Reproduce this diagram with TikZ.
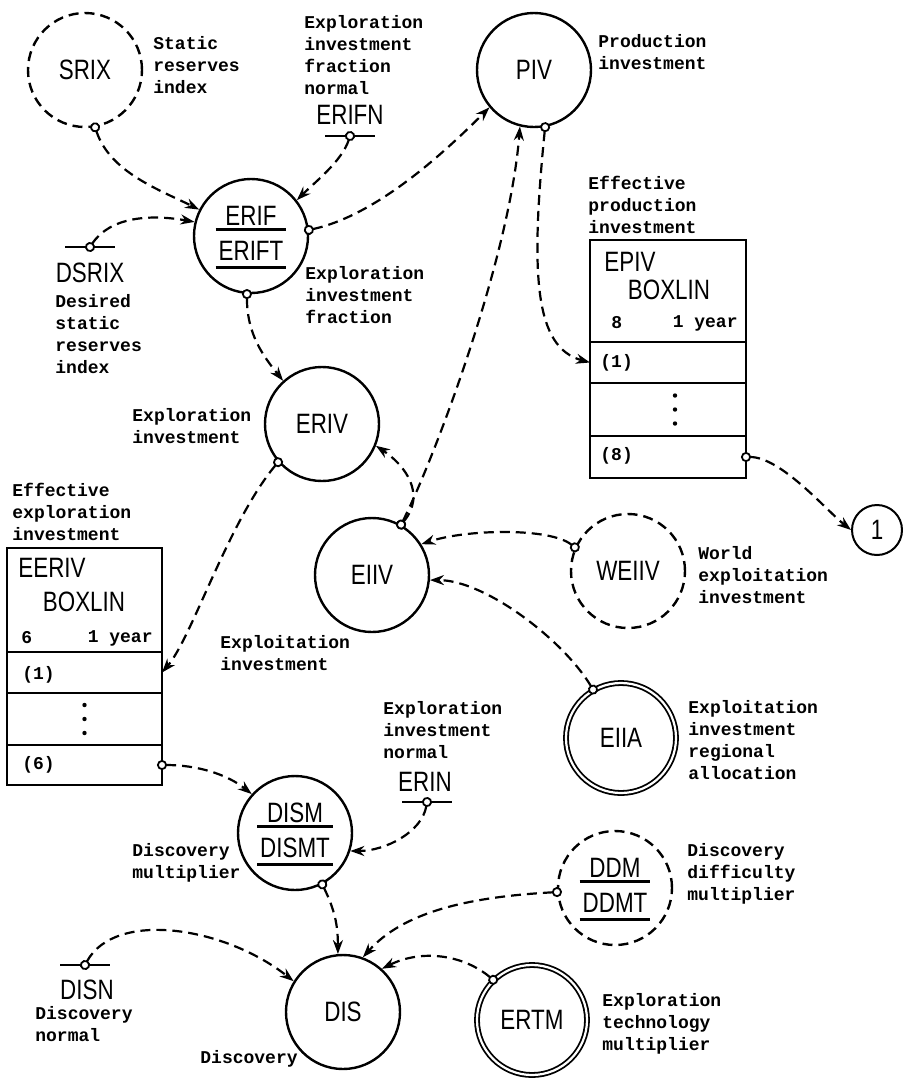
\documentclass[tikz,border=0pt]{standalone}
\usepackage{fontspec}
\setmonofont{Liberation Mono}
\newfontfamily\namefont[FakeStretch=0.8]{Liberation Sans}
\usetikzlibrary{arrows.meta}
\newcommand\ratio[2]{{\renewcommand\arraystretch{0}\setlength\arrayrulewidth{1.4pt}%
  \begin{tabular}{@{\hspace{1.5pt}}c@{\hspace{1.5pt}}}
  \rule{0pt}{11pt}#1\rule[-1.5pt]{0pt}{1.5pt}\\\hline
  \rule{0pt}{14.5pt}#2\rule[-3pt]{0pt}{3pt}\\\hline
  \end{tabular}}}

\begin{document}
\begin{tikzpicture}[x=0.5pt, y=-0.5pt,
  every node/.style={inner sep=0pt},
  mnem/.style={font=\namefont\fontsize{14}{15}\selectfont},
  var/.style={mnem, circle, draw, line width=1.2pt, minimum size=57pt},
  aux/.style={var, dash pattern=on 5pt off 3pt},
  given/.style={var, double, line width=0.9pt, double distance=1.1pt, minimum size=55pt},
  note/.style={align=left, anchor=north west, font=\ttfamily\bfseries\fontsize{9}{11}\selectfont},
  cell/.style={draw, line width=1pt, rectangle, anchor=north west, outer sep=0pt},
  link/.style={line width=1.1pt, dash pattern=on 5pt off 3pt,
    {Circle[length=5pt,fill=white,line width=0.9pt]}-{Stealth[length=7pt,width=5pt]},
    shorten <=-2.5pt},
  bar/.style={line width=1.2pt}]
  \useasboundingbox (0,0) rectangle (903,1078);

  \node[aux] (srix) at (85,70) {SRIX};
  \node[var] (erif) at (251,236) {\ratio{ERIF}{ERIFT}};
  \node[var] (piv) at (534,70) {PIV};
  \node[var] (eriv) at (322,424) {ERIV};
  \node[var] (eiiv) at (372,575) {EIIV};
  \node[aux] (weiiv) at (628,571) {WEIIV};
  \node[given] (eiia) at (621,738) {EIIA};
  \node[var] (dism) at (295,833) {\ratio{DISM}{DISMT}};
  \node[aux] (ddm) at (615,888) {\ratio{DDM}{DDMT}};
  \node[var] (dis) at (343,1012) {DIS};
  \node[given] (ertm) at (532,1020) {ERTM};
  \node[var, line width=1pt, minimum size=25pt] (one) at (877,530) {1};

  \coordinate (erifn) at (350,136);
  \draw[bar] ([xshift=-12.5pt]erifn) -- ([xshift=12.5pt]erifn);
  \node[mnem] (erifnname) at (350,115) {ERIFN};
  \coordinate (dsrix) at (90,247);
  \draw[bar] ([xshift=-12.5pt]dsrix) -- ([xshift=12.5pt]dsrix);
  \node[mnem] (dsrixname) at (90,273) {DSRIX};
  \coordinate (erin) at (427,802);
  \draw[bar] ([xshift=-12.5pt]erin) -- ([xshift=12.5pt]erin);
  \node[mnem] (erinname) at (425,782) {ERIN};
  \coordinate (disn) at (85,965);
  \draw[bar] ([xshift=-12.5pt]disn) -- ([xshift=12.5pt]disn);
  \node[mnem] (disnname) at (87,990) {DISN};

  \node[cell, minimum width=78pt, minimum height=51pt] (epiv) at (590,240) {};
  \node[cell, minimum width=78pt, minimum height=20.5pt] (epiv1) at (epiv.south west) {};
  \node[cell, minimum width=78pt, minimum height=26.5pt] (epivdots) at (epiv1.south west) {};
  \node[cell, minimum width=78pt, minimum height=21pt] (epiv8) at (epivdots.south west) {};
  \foreach \d in {-7,0,7}
    \fill ([shift={(3.5pt,\d pt)}]epivdots.center) circle (1.1pt);
  \node[mnem] (epivname) at (630,262) {EPIV};
  \node[mnem] (epivfn) at (669,290) {BOXLIN};
  \node[note, anchor=west] (epivorder) at (611,323) {8};
  \node[note, anchor=east] (epivdelay) at (738,323) {1 year};
  \node[note, anchor=west] (epivfirst) at (600,363) {(1)};
  \node[note, anchor=west] (epivlast) at (600,456) {(8)};

  \node[cell, minimum width=77.5pt, minimum height=52pt] (eerv) at (7,548) {};
  \node[cell, minimum width=77.5pt, minimum height=20.5pt] (eerv1) at (eerv.south west) {};
  \node[cell, minimum width=77.5pt, minimum height=26pt] (eervdots) at (eerv1.south west) {};
  \node[cell, minimum width=77.5pt, minimum height=20pt] (eerv6) at (eervdots.south west) {};
  \foreach \d in {-7,0,7}
    \fill ([yshift=\d pt]eervdots.center) circle (1.1pt);
  \node[mnem] (eervname) at (52,568) {EERIV};
  \node[mnem] (eervfn) at (84,602) {BOXLIN};
  \node[note, anchor=west] (eervorder) at (21,638) {6};
  \node[note, anchor=east] (eervdelay) at (153,638) {1 year};
  \node[note, anchor=west] (eervfirst) at (22,675) {(1)};
  \node[note, anchor=west] (eervlast) at (22,765) {(6)};

  \node[note] (srixlab) at (153,36) {Static\\reserves\\index};
  \node[note] (erifnlab) at (304,15) {Exploration\\investment\\fraction\\normal};
  \node[note] (pivlab) at (598,34) {Production\\investment};
  \node[note] (dsrixlab) at (55,294) {Desired\\static\\reserves\\index};
  \node[note] (eriflab) at (305,266) {Exploration\\investment\\fraction};
  \node[note] (epivlab) at (588,176) {Effective\\production\\investment};
  \node[note] (erivlab) at (132,408) {Exploration\\investment};
  \node[note] (eervlab) at (12,483) {Effective\\exploration\\investment};
  \node[note] (weiivlab) at (698,546) {World\\exploitation\\investment};
  \node[note] (eiivlab) at (220,635) {Exploitation\\investment};
  \node[note] (eiialab) at (688,700) {Exploitation\\investment\\regional\\allocation};
  \node[note] (erinlab) at (383,701) {Exploration\\investment\\normal};
  \node[note] (dismlab) at (132,843) {Discovery\\multiplier};
  \node[note] (ddmlab) at (687,843) {Discovery\\difficulty\\multiplier};
  \node[note] (disnlab) at (35,1006) {Discovery\\normal};
  \node[note] (dislab) at (200,1050) {Discovery};
  \node[note] (ertmlab) at (602,993) {Exploration\\technology\\multiplier};

  \draw[link] (srix.-80) .. controls +(15,45) and +(-40,-20) .. (erif.153);
  \draw[link] (erifn) .. controls +(-8,25) and +(18,-18) .. (erif.38);
  \draw[link] (dsrix) .. controls +(20,-30) and +(-45,-8) .. (erif.166);
  \draw[link] (erif.6) .. controls +(70,-15) and +(-40,40) .. (piv.-140);
  \draw[link] (erif.-94) .. controls +(0,40) and +(-20,-25) .. (eriv.132);
  \draw[link] (piv.-79) .. controls +(-15,150) and +(-55,-15) .. (epiv1.west);
  \draw[link] (epiv8.east) .. controls +(35,0) and +(-25,-20) .. (one.180);
  \draw[link] (eriv.-139) .. controls +(-50,60) and +(30,-35) .. (eerv1.east);
  \draw[link] (eiiv.60) .. controls +(25,-30) and +(30,20) .. (eriv.-22);
  \draw[link] (eiiv.60) .. controls +(35,-70) and +(-10,130) .. (piv.-104);
  \draw[link] (weiiv.156) .. controls +(-25,-20) and +(45,-15) .. (eiiv.32);
  \draw[link] (eiia.120) .. controls +(-30,-50) and +(55,0) .. (eiiv.-5);
  \draw[link] (eerv6.east) .. controls +(35,0) and +(-25,-20) .. (dism.138);
  \draw[link] (erin) .. controls +(-5,30) and +(35,0) .. (dism.-18);
  \draw[link] (dism.-62) .. controls +(12,25) and +(0,-30) .. (dis.95);
  \draw[link] (disn) .. controls +(30,-55) and +(-70,-55) .. (dis.148);
  \draw[link] (ddm.-176) .. controls +(-90,5) and +(40,-45) .. (dis.70);
  \draw[link] (ertm.134) .. controls +(-30,-25) and +(40,-20) .. (dis.48);
\end{tikzpicture}
\end{document}
